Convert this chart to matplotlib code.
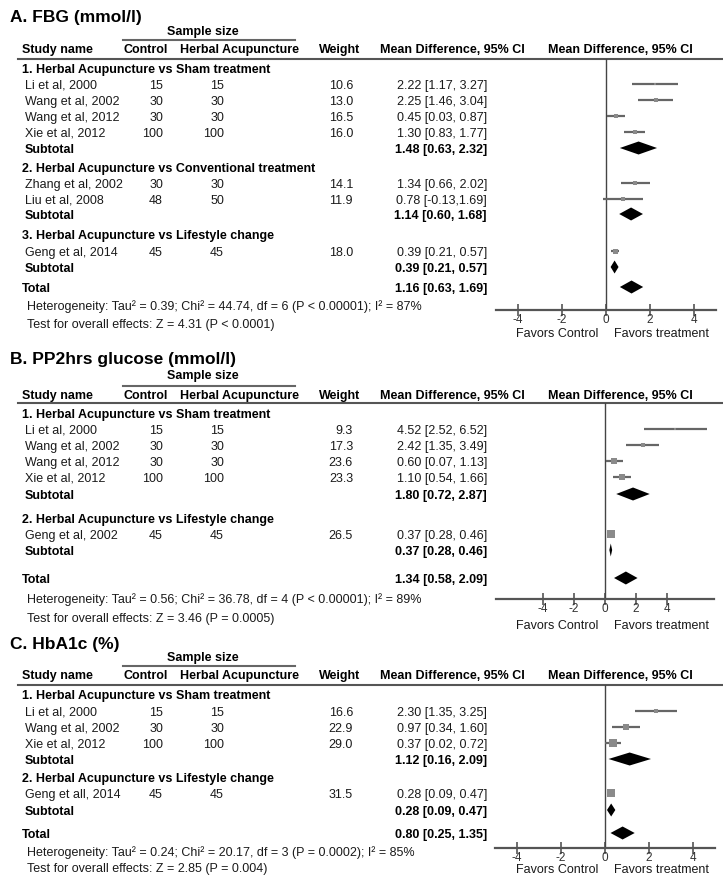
import matplotlib.pyplot as plt

plt.rcParams['font.family'] = ['Liberation Sans', 'DejaVu Sans']

W, H = 723, 882

# ---- Panel A: FBG ----
groups_a = ["1. Herbal Acupuncture vs Sham treatment",
            "2. Herbal Acupuncture vs Conventional treatment",
            "3. Herbal Acupuncture vs Lifestyle change"]
studies_a = ["Li et al, 2000", "Wang et al, 2002", "Wang et al, 2012", "Xie et al, 2012",
             "Zhang et al, 2002", "Liu et al, 2008", "Geng et al, 2014"]
ctrl_a = [15, 30, 30, 100, 30, 48, 45]
herb_a = [15, 30, 30, 100, 30, 50, 45]
weight_a = [10.6, 13.0, 16.5, 16.0, 14.1, 11.9, 18.0]
md_a = [2.22, 2.25, 0.45, 1.30, 1.34, 0.78, 0.39]
lo_a = [1.17, 1.46, 0.03, 0.83, 0.66, -0.13, 0.21]
hi_a = [3.27, 3.04, 0.87, 1.77, 2.02, 1.69, 0.57]
sub_md_a = [1.48, 1.14, 0.39]
sub_lo_a = [0.63, 0.60, 0.21]
sub_hi_a = [2.32, 1.68, 0.57]
total_a = (1.16, 0.63, 1.69)
het_a = "Heterogeneity: Tau² = 0.39; Chi² = 44.74, df = 6 (P < 0.00001); I² = 87%"
test_a = "Test for overall effects: Z = 4.31 (P < 0.0001)"

# ---- Panel B: PP2hrs glucose ----
groups_b = ["1. Herbal Acupuncture vs Sham treatment",
            "2. Herbal Acupuncture vs Lifestyle change"]
studies_b = ["Li et al, 2000", "Wang et al, 2002", "Wang et al, 2012", "Xie et al, 2012",
             "Geng et al, 2002"]
ctrl_b = [15, 30, 30, 100, 45]
herb_b = [15, 30, 30, 100, 45]
weight_b = [9.3, 17.3, 23.6, 23.3, 26.5]
md_b = [4.52, 2.42, 0.60, 1.10, 0.37]
lo_b = [2.52, 1.35, 0.07, 0.54, 0.28]
hi_b = [6.52, 3.49, 1.13, 1.66, 0.46]
sub_md_b = [1.80, 0.37]
sub_lo_b = [0.72, 0.28]
sub_hi_b = [2.87, 0.46]
total_b = (1.34, 0.58, 2.09)
het_b = "Heterogeneity: Tau² = 0.56; Chi² = 36.78, df = 4 (P < 0.00001); I² = 89%"
test_b = "Test for overall effects: Z = 3.46 (P = 0.0005)"

# ---- Panel C: HbA1c ----
groups_c = ["1. Herbal Acupuncture vs Sham treatment",
            "2. Herbal Acupuncture vs Lifestyle change"]
studies_c = ["Li et al, 2000", "Wang et al, 2002", "Xie et al, 2012", "Geng et all, 2014"]
ctrl_c = [15, 30, 100, 45]
herb_c = [15, 30, 100, 45]
weight_c = [16.6, 22.9, 29.0, 31.5]
md_c = [2.30, 0.97, 0.37, 0.28]
lo_c = [1.35, 0.34, 0.02, 0.09]
hi_c = [3.25, 1.60, 0.72, 0.47]
sub_md_c = [1.12, 0.28]
sub_lo_c = [0.16, 0.09]
sub_hi_c = [2.09, 0.47]
total_c = (0.80, 0.25, 1.35)
het_c = "Heterogeneity: Tau² = 0.24; Chi² = 20.17, df = 3 (P = 0.0002); I² = 85%"
test_c = "Test for overall effects: Z = 2.85 (P = 0.004)"

ticks = [-4, -2, 0, 2, 4]

# layout, in pixels from the top of the figure
lay_a = dict(title=16, sample=30, sline=40, header=48, hline=59,
             group_y=[68, 167, 234], study_y=[84, 100, 116, 132, 183, 199, 251],
             sub_y=[148, 214, 267], total=287, het=305, test=323,
             axis=310, favors=332, xpx=(496, 716), xlim=(-5, 5))
lay_b = dict(title=358, sample=374, sline=386, header=394, hline=403,
             group_y=[413, 518], study_y=[429, 445, 461, 477, 534],
             sub_y=[494, 550], total=578, het=598, test=617,
             axis=599, favors=624, xpx=(496, 714), xlim=(-7, 7))
lay_c = dict(title=643, sample=656, sline=666, header=674, hline=685,
             group_y=[694, 777], study_y=[711, 727, 743, 793],
             sub_y=[759, 810], total=833, het=851, test=867,
             axis=848, favors=868, xpx=(495, 715), xlim=(-5, 5))

fig = plt.figure(figsize=(W / 100, H / 100), dpi=100)
bg = fig.add_axes([0, 0, 1, 1])
bg.set_xlim(0, W)
bg.set_ylim(H, 0)
bg.axis('off')

FS = 9
TXT = '#1a1a1a'


def txt(x, y, s, size=FS, **kw):
    # place text so that its cap height is centred on y (pixels)
    kw.setdefault('color', TXT)
    bg.text(x, y + size * 1.389 * 0.36, s, fontsize=size, va='baseline', **kw)


def ci_text(m, l, h):
    sep = "," if l < 0 else ", "
    return f"{m:.2f} [{l:.2f}{sep}{h:.2f}]"


def diamond(ax, m, l, h, y, half=6.5):
    ax.fill([l, m, h, m], [y, y - half, y, y + half], color='black', lw=0)


def draw_panel(title, L, groups, studies, ctrl, herb, weight, md, lo, hi,
               sub_md, sub_lo, sub_hi, total, het, test):
    txt(10, L['title'], title, size=12.5, fontweight='bold', color='black')
    txt(203, L['sample'], "Sample size", fontweight='bold', ha='center', color='black')
    bg.plot([123, 295], [L['sline']] * 2, color='#666666', lw=1.5)
    hy = L['header']
    hb = dict(fontweight='bold', color='black')
    txt(22, hy, "Study name", **hb)
    txt(146, hy, "Control", ha='center', **hb)
    txt(239, hy, "Herbal Acupuncture", ha='center', **hb)
    txt(340, hy, "Weight", ha='center', **hb)
    txt(452, hy, "Mean Difference, 95% CI", ha='center', **hb)
    txt(620, hy, "Mean Difference, 95% CI", ha='center', **hb)
    bg.plot([18, W], [L['hline']] * 2, color='#555555', lw=1.5)

    for g, y in zip(groups, L['group_y']):
        txt(22, y, g, **hb)
    for i, y in enumerate(L['study_y']):
        txt(25, y, studies[i])
        txt(163, y, str(ctrl[i]), ha='right')
        txt(224, y, str(herb[i]), ha='right')
        txt(353, y, f"{weight[i]:.1f}", ha='right')
        txt(487, y, ci_text(md[i], lo[i], hi[i]), ha='right')
    for j, y in enumerate(L['sub_y']):
        txt(25, y, "Subtotal", **hb)
        txt(487, y, ci_text(sub_md[j], sub_lo[j], sub_hi[j]), ha='right', **hb)
    txt(22, L['total'], "Total", **hb)
    txt(487, L['total'], ci_text(*total), ha='right', **hb)
    txt(27, L['het'], het)
    txt(27, L['test'], test)

    # forest plot area: x in effect units, y in page pixels
    x0, x1 = L['xpx']
    top, bot = L['hline'], L['axis']
    ax = fig.add_axes([x0 / W, 1 - bot / H, (x1 - x0) / W, (bot - top) / H])
    ax.set_xlim(*L['xlim'])
    ax.set_ylim(bot, top)
    ax.patch.set_alpha(0)
    for s in ['top', 'right', 'left']:
        ax.spines[s].set_visible(False)
    ax.spines['bottom'].set_color('#555555')
    ax.spines['bottom'].set_linewidth(1.6)
    ax.set_yticks([])
    ax.set_xticks(ticks)
    ax.set_xticklabels([str(t) for t in ticks])
    ax.tick_params(axis='x', direction='inout', length=9, width=1.2, color='#555555',
                   labelsize=8.5, labelcolor='#333333', pad=-1.5)
    ax.axvline(0, color='#444444', lw=1)

    ys = L['study_y']
    ax.hlines(ys, lo, hi, color='#666666', lw=1.6)
    for m, y, w in zip(md, ys, weight):
        ax.plot(m, y, 's', color='#8a8a8a', ms=w * 0.2, mew=0)
    for j, y in enumerate(L['sub_y']):
        diamond(ax, sub_md[j], sub_lo[j], sub_hi[j], y)
    diamond(ax, total[0], total[1], total[2], L['total'])

    txt(557, L['favors'], "Favors Control", ha='center')
    txt(661, L['favors'], "Favors treatment", ha='center')


draw_panel("A. FBG (mmol/l)", lay_a, groups_a, studies_a, ctrl_a, herb_a, weight_a,
           md_a, lo_a, hi_a, sub_md_a, sub_lo_a, sub_hi_a, total_a, het_a, test_a)
draw_panel("B. PP2hrs glucose (mmol/l)", lay_b, groups_b, studies_b, ctrl_b, herb_b, weight_b,
           md_b, lo_b, hi_b, sub_md_b, sub_lo_b, sub_hi_b, total_b, het_b, test_b)
draw_panel("C. HbA1c (%)", lay_c, groups_c, studies_c, ctrl_c, herb_c, weight_c,
           md_c, lo_c, hi_c, sub_md_c, sub_lo_c, sub_hi_c, total_c, het_c, test_c)

fig.savefig("out.png", dpi=100, facecolor='white')
